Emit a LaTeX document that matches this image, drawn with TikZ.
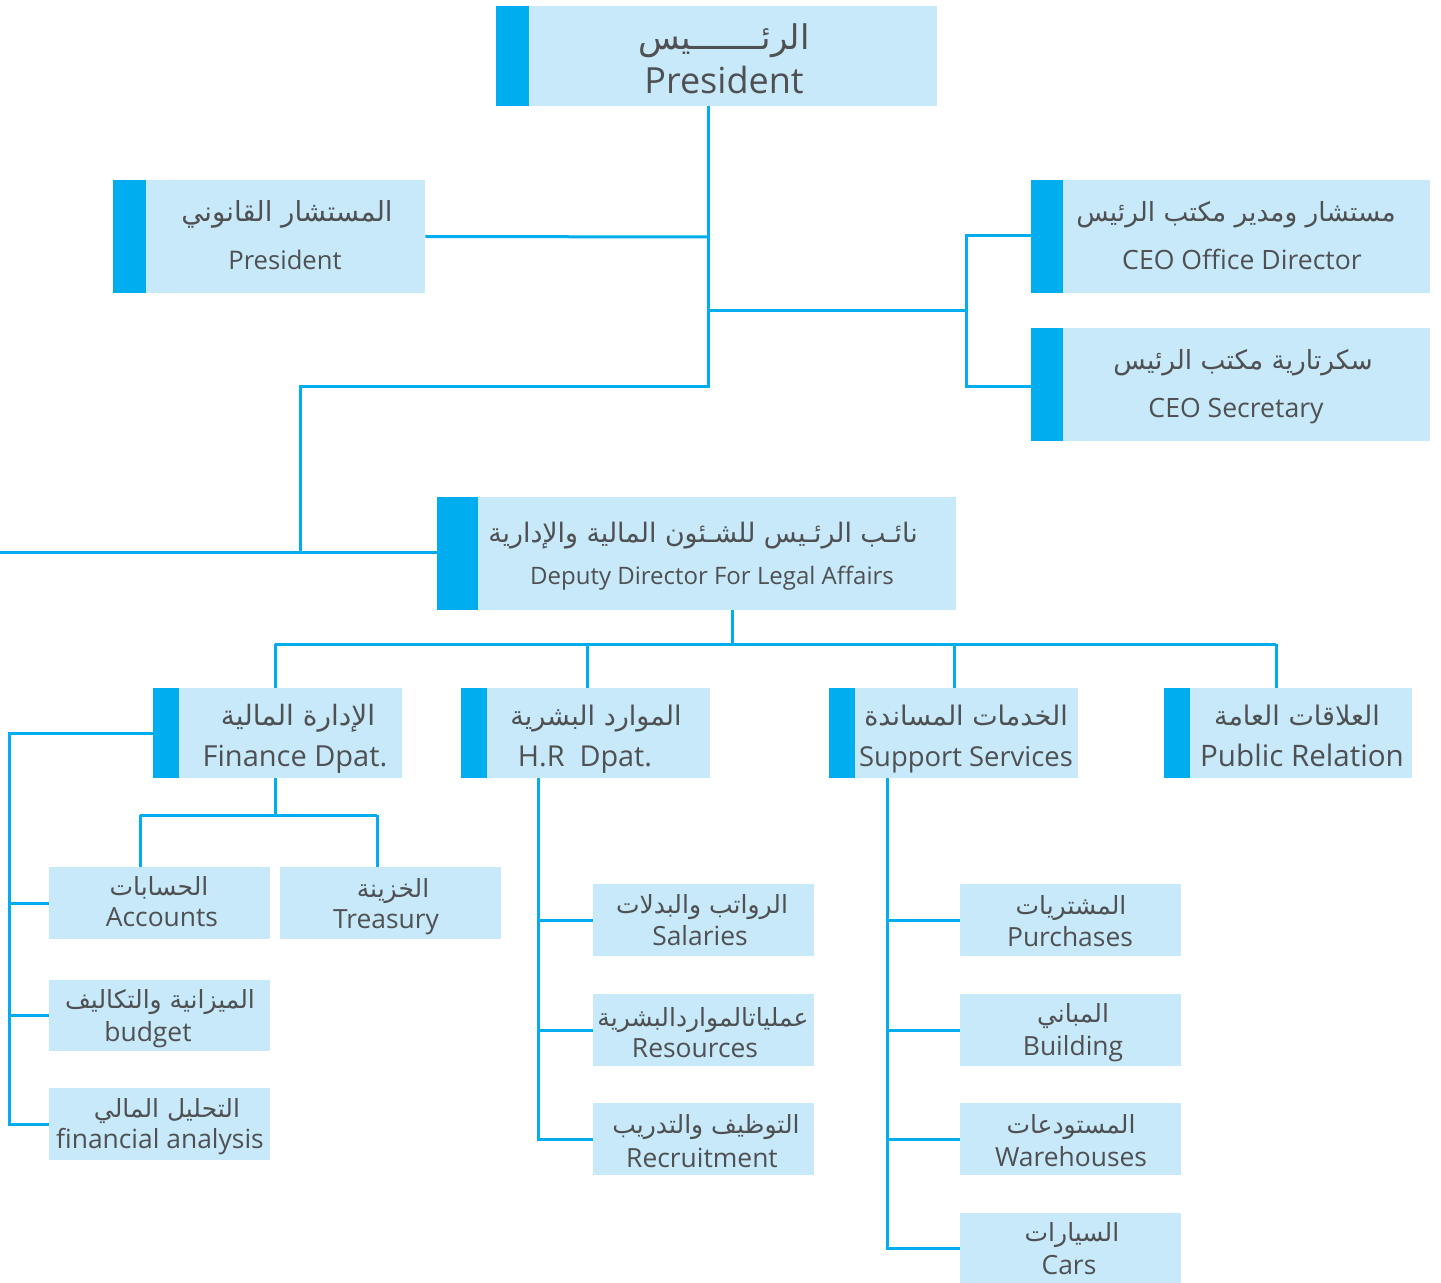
\documentclass[tikz,border=0pt]{standalone}
\usepackage{fontspec}
\setmainfont{Open Sans}
\newfontfamily\arabicfont[Script=Arabic]{DejaVu Sans}
\TeXXeTstate=1
\usetikzlibrary{fit,backgrounds}
\definecolor{acc}{HTML}{00AEEF}
\definecolor{lb}{HTML}{C7E9F9}
\definecolor{tc}{HTML}{4F5052}
\newcommand\AR[1]{\beginR #1\endR}
\tikzset{
  box/.style={fill=lb, draw=none, inner sep=0pt},
  conn/.style={draw=acc, line width=1.5pt},
  ar/.style={text=tc, font=\arabicfont\fontsize{#1}{#1}\selectfont, anchor=base, inner sep=0pt},
  en/.style={text=tc, font=\fontsize{#1}{#1}\selectfont, anchor=base, inner sep=0pt},
}
\begin{document}
\begin{tikzpicture}[x=0.5pt,y=-0.5pt]
\useasboundingbox (0,0) rectangle (1441,1283);

% ---------- boxes ----------
\node[box, fit={(496,6)(937,106)}] (pres) {};
\fill[acc] (pres.north west) rectangle ([xshift=16.5pt]pres.south west);
\node[box, fit={(113,180)(425,293)}] (legal) {};
\fill[acc] (legal.north west) rectangle ([xshift=16.5pt]legal.south west);
\node[box, fit={(1031,180)(1430,293)}] (ceo) {};
\fill[acc] (ceo.north west) rectangle ([xshift=16pt]ceo.south west);
\node[box, fit={(1031,328)(1430,441)}] (sec) {};
\fill[acc] (sec.north west) rectangle ([xshift=16pt]sec.south west);
\node[box, fit={(437,497)(956,610)}] (dep) {};
\fill[acc] (dep.north west) rectangle ([xshift=20.5pt]dep.south west);

\node[box, fit={(153,688)(402,778)}] (fin) {};
\fill[acc] (fin.north west) rectangle ([xshift=13pt]fin.south west);
\node[box, fit={(461,688)(710,778)}] (hr) {};
\fill[acc] (hr.north west) rectangle ([xshift=13pt]hr.south west);
\node[box, fit={(829,688)(1078,778)}] (sup) {};
\fill[acc] (sup.north west) rectangle ([xshift=13pt]sup.south west);
\node[box, fit={(1164,688)(1412,778)}] (pr) {};
\fill[acc] (pr.north west) rectangle ([xshift=13pt]pr.south west);

\node[box, fit={(49,867)(270,939)}] (acct) {};
\node[box, fit={(280,867)(501,939)}] (tre) {};
\node[box, fit={(49,980)(270,1051)}] (bud) {};
\node[box, fit={(49,1088)(270,1160)}] (fa) {};
\node[box, fit={(593,884)(814,956)}] (sal) {};
\node[box, fit={(593,994)(814,1066)}] (res) {};
\node[box, fit={(593,1103)(814,1175)}] (rec) {};
\node[box, fit={(960,884)(1181,956)}] (pur) {};
\node[box, fit={(960,994)(1181,1066)}] (bui) {};
\node[box, fit={(960,1103)(1181,1175)}] (war) {};
\node[box, fit={(960,1213)(1181,1283)}] (cars) {};

% ---------- texts ----------
\node[ar=17] (pres-a) at (724,50) {\AR{الرئـــــــيس}};
\node[en=18] (pres-e) at (724,94) {President};
\node[ar=13.8] (legal-a) at (287,222) {\AR{المستشار القانوني}};
\node[en=12.8] (legal-e) at (285,270) {President};
\node[ar=13.2] (ceo-a) at (1236,222) {\AR{مستشار ومدير مكتب الرئيس}};
\node[en=13.3] (ceo-e) at (1242,270) {CEO Office Director};
\node[ar=13.2] (sec-a) at (1243,370) {\AR{سكرتارية مكتب الرئيس}};
\node[en=13.3] (sec-e) at (1236,418) {CEO Secretary};
\node[ar=13.4] (dep-a) at (703,543) {\AR{نائـب الرئـيس للشـئون المالية والإدارية}};
\node[en=12] (dep-e) at (712,584) {Deputy Director For Legal Affairs};

\node[ar=14] (fin-a) at (298,725) {\AR{الإدارة المالية}};
\node[en=14.5] (fin-e) at (295,766) {Finance Dpat.};
\node[ar=13.5] (hr-a) at (596,725) {\AR{الموارد البشرية}};
\node[en=14.4] (hr-e) at (585,766) {H.R\ \ Dpat.};
\node[ar=13.5] (sup-a) at (966,725) {\AR{الخدمات المساندة}};
\node[en=13.7] (sup-e) at (966,766) {Support Services};
\node[ar=13.5] (pr-a) at (1297,725) {\AR{العلاقات العامة}};
\node[en=14.8] (pr-e) at (1302,766) {Public Relation};

\node[ar=12.5] (acct-a) at (159,895) {\AR{الحسابات}};
\node[en=13.2] (acct-e) at (162,926) {Accounts};
\node[ar=12.5] (tre-a) at (393,897) {\AR{الخزينة}};
\node[en=13.2] (tre-e) at (386,928) {Treasury};
\node[ar=12.5] (bud-a) at (160,1008) {\AR{الميزانية والتكاليف}};
\node[en=13.2] (bud-e) at (148,1041) {budget};
\node[ar=12.5] (fa-a) at (167,1117) {\AR{التحليل المالي}};
\node[en=13.2] (fa-e) at (160,1148) {financial analysis};

\node[ar=12.5] (sal-a) at (702,913) {\AR{الرواتب والبدلات}};
\node[en=13.2] (sal-e) at (700,945) {Salaries};
\node[ar=12.5] (res-a) at (703,1026) {\AR{عملياتالمواردالبشرية}};
\node[en=13.2] (res-e) at (695,1057) {Resources};
\node[ar=12.5] (rec-a) at (706,1133) {\AR{التوظيف والتدريب}};
\node[en=13.2] (rec-e) at (702,1167) {Recruitment};

\node[ar=12.5] (pur-a) at (1071,914) {\AR{المشتريات}};
\node[en=13.2] (pur-e) at (1070,946) {Purchases};
\node[ar=12.5] (bui-a) at (1073,1022) {\AR{المباني}};
\node[en=13.2] (bui-e) at (1073,1055) {Building};
\node[ar=12.5] (war-a) at (1071,1133) {\AR{المستودعات}};
\node[en=13.2] (war-e) at (1071,1166) {Warehouses};
\node[ar=12.5] (cars-a) at (1072,1241) {\AR{السيارات}};
\node[en=13.2] (cars-e) at (1069,1274) {Cars};

% ---------- connectors ----------
\coordinate (jl) at (708,237);
\coordinate (jr) at (708,311);
\coordinate (jd) at (708,387);
\coordinate (jdd) at (300,553);
\coordinate (edge) at (0,553);
\coordinate (jc) at (966,311);
\coordinate (jct) at (966,236);
\coordinate (jcb) at (966,387);
\coordinate (jdep) at (732,644);
\coordinate (dfin) at (275,644);
\coordinate (dhr) at (587,644);
\coordinate (dsup) at (954,644);
\coordinate (dpr) at (1276,644);
\coordinate (fl) at (9,733);
\coordinate (fb) at (275,815);
\coordinate (fba) at (140,815);
\coordinate (fbt) at (377,815);
\coordinate (hv) at (538,778);
\coordinate (sv) at (887,778);

\begin{scope}[on background layer]
\draw[conn] (pres.south -| jd) -- (jd) -| (jdd);
\draw[conn] (edge) -- (dep.west |- edge);
\draw[conn] (legal.east) -- (jl);
\draw[conn] (jr) -- (jc);
\draw[conn] (ceo.west |- jct) -- (jct) -- (jcb) -- (sec.west |- jcb);

\draw[conn] (dep.south -| jdep) -- (jdep);
\draw[conn] (dfin) -- (dpr);
\draw[conn] (dfin) -- (dfin |- fin.north);
\draw[conn] (dhr) -- (dhr |- hr.north);
\draw[conn] (dsup) -- (dsup |- sup.north);
\draw[conn] (dpr) -- (dpr |- pr.north);

\draw[conn] (fin.west |- fl) -- (fl) |- (fa.west);
\draw[conn] (fl |- acct.west) -- (acct.west);
\draw[conn] (fl |- bud.west) -- (bud.west);
\draw[conn] (fin.south -| fb) -- (fb);
\draw[conn] (fba) -- (fbt);
\draw[conn] (fba) -- (fba |- acct.north);
\draw[conn] (fbt) -- (fbt |- tre.north);

\draw[conn] (hv) |- (rec.west);
\draw[conn] (hv |- sal.west) -- (sal.west);
\draw[conn] (hv |- res.west) -- (res.west);

\draw[conn] (sv) |- (cars.west);
\draw[conn] (sv |- pur.west) -- (pur.west);
\draw[conn] (sv |- bui.west) -- (bui.west);
\draw[conn] (sv |- war.west) -- (war.west);
\end{scope}
\end{tikzpicture}
\end{document}
